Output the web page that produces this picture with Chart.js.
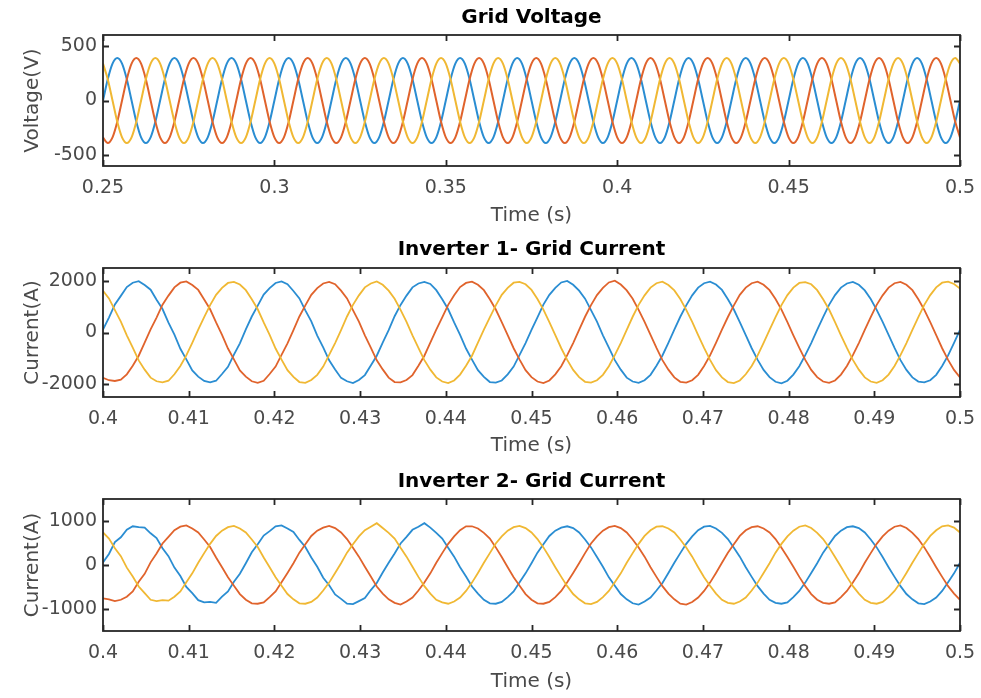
<!DOCTYPE html>
<html><head><meta charset="utf-8">
<script src="https://cdn.jsdelivr.net/npm/chart.js@4.4.1/dist/chart.umd.min.js"></script>
<style>
html,body{margin:0;padding:0;background:#fff;}
#wrap{position:relative;width:981px;height:698px;overflow:hidden;background:#fff;}
canvas{position:absolute;left:0;}
</style></head><body>
<div id="wrap">
<canvas id="c1" width="981" height="232" style="top:0px"></canvas>
<canvas id="c2" width="981" height="232" style="top:232px"></canvas>
<canvas id="c3" width="981" height="234" style="top:464px"></canvas>
</div>
<script>
// ---------- DATA ----------
const seriesNames = ['Phase A', 'Phase B', 'Phase C'];
const plotTitles = ['Grid Voltage', 'Inverter 1- Grid Current', 'Inverter 2- Grid Current'];
const yTitles = ['Voltage(V)', 'Current(A)', 'Current(A)'];
const xTitle = 'Time (s)';

// voltage sampled every 1/720 s starting at 0.25 s
const voltageStart = 0.25;
const voltageStep = 1 / 720;
const voltageA = [
0,195,338,390,338,195,0,-195,-338,-390,-338,-195,
0,195,338,390,338,195,0,-195,-338,-390,-338,-195,
0,195,338,390,338,195,0,-195,-338,-390,-338,-195,
0,195,338,390,338,195,0,-195,-338,-390,-338,-195,
0,195,338,390,338,195,0,-195,-338,-390,-338,-195,
0,195,338,390,338,195,0,-195,-338,-390,-338,-195,
0,195,338,390,338,195,0,-195,-338,-390,-338,-195,
0,195,338,390,338,195,0,-195,-338,-390,-338,-195,
0,195,338,390,338,195,0,-195,-338,-390,-338,-195,
0,195,338,390,338,195,0,-195,-338,-390,-338,-195,
0,195,338,390,338,195,0,-195,-338,-390,-338,-195,
0,195,338,390,338,195,0,-195,-338,-390,-338,-195,
0,195,338,390,338,195,0,-195,-338,-390,-338,-195,
0,195,338,390,338,195,0,-195,-338,-390,-338,-195,
0,195,338,390,338,195,0,-195,-338,-390,-338,-195,
0];
const voltageB = [
-338,-390,-338,-195,0,195,338,390,338,195,0,-195,
-338,-390,-338,-195,0,195,338,390,338,195,0,-195,
-338,-390,-338,-195,0,195,338,390,338,195,0,-195,
-338,-390,-338,-195,0,195,338,390,338,195,0,-195,
-338,-390,-338,-195,0,195,338,390,338,195,0,-195,
-338,-390,-338,-195,0,195,338,390,338,195,0,-195,
-338,-390,-338,-195,0,195,338,390,338,195,0,-195,
-338,-390,-338,-195,0,195,338,390,338,195,0,-195,
-338,-390,-338,-195,0,195,338,390,338,195,0,-195,
-338,-390,-338,-195,0,195,338,390,338,195,0,-195,
-338,-390,-338,-195,0,195,338,390,338,195,0,-195,
-338,-390,-338,-195,0,195,338,390,338,195,0,-195,
-338,-390,-338,-195,0,195,338,390,338,195,0,-195,
-338,-390,-338,-195,0,195,338,390,338,195,0,-195,
-338,-390,-338,-195,0,195,338,390,338,195,0,-195,
-338];
const voltageC = [
338,195,0,-195,-338,-390,-338,-195,0,195,338,390,
338,195,0,-195,-338,-390,-338,-195,0,195,338,390,
338,195,0,-195,-338,-390,-338,-195,0,195,338,390,
338,195,0,-195,-338,-390,-338,-195,0,195,338,390,
338,195,0,-195,-338,-390,-338,-195,0,195,338,390,
338,195,0,-195,-338,-390,-338,-195,0,195,338,390,
338,195,0,-195,-338,-390,-338,-195,0,195,338,390,
338,195,0,-195,-338,-390,-338,-195,0,195,338,390,
338,195,0,-195,-338,-390,-338,-195,0,195,338,390,
338,195,0,-195,-338,-390,-338,-195,0,195,338,390,
338,195,0,-195,-338,-390,-338,-195,0,195,338,390,
338,195,0,-195,-338,-390,-338,-195,0,195,338,390,
338,195,0,-195,-338,-390,-338,-195,0,195,338,390,
338,195,0,-195,-338,-390,-338,-195,0,195,338,390,
338,195,0,-195,-338,-390,-338,-195,0,195,338,390,
338];

// currents sampled every 1/1440 s starting at 0.4 s
const currentStart = 0.4;
const currentStep = 1 / 1440;
const inv1A = [
110,580,1090,1420,1760,1930,1990,1840,1660,1270,910,380,-80,-630,-1040,-1470,-1710,-1880,-1930,-1870,-1610,-1330,-860,-420,
120,620,1040,1470,1720,1920,1980,1870,1610,1320,860,430,-120,-580,-1080,-1430,-1760,-1890,-1960,-1840,-1650,-1280,-900,-390,
90,630,1070,1430,1750,1900,1960,1880,1640,1290,900,390,-90,-620,-1050,-1460,-1720,-1920,-1940,-1860,-1620,-1320,-870,-410,
100,590,1080,1460,1730,1940,2000,1850,1620,1310,870,420,-110,-590,-1070,-1440,-1750,-1900,-1950,-1850,-1640,-1290,-890,-400,
110,610,1050,1440,1740,1910,1970,1860,1650,1290,890,400,-100,-610,-1060,-1450,-1730,-1910,-1970,-1870,-1630,-1310,-880,-410,
100,600,1070,1450,1740,1900,1960,1850,1630,1300,880,410,-90,-600,-1070,-1450,-1740,-1900,-1930,-1850,-1640,-1300,-890,-400,
100];
const inv1B = [
-1760,-1850,-1880,-1830,-1620,-1290,-900,-390,120,580,1080,1430,1750,1930,1980,1840,1650,1280,900,390,-90,-620,-1040,-1470,
-1710,-1890,-1950,-1870,-1610,-1320,-870,-420,90,620,1050,1460,1720,1900,1960,1870,1620,1320,870,420,-110,-590,-1080,-1430,
-1750,-1920,-1930,-1840,-1650,-1290,-900,-390,110,590,1070,1440,1760,1920,1970,1850,1640,1290,890,400,-100,-610,-1050,-1460,
-1730,-1900,-1960,-1860,-1620,-1310,-880,-410,100,610,1060,1450,1730,1940,2010,1860,1630,1310,880,410,-90,-600,-1070,-1440,
-1740,-1910,-1940,-1850,-1640,-1300,-890,-400,110,600,1050,1460,1740,1910,1970,1850,1640,1300,890,400,-110,-600,-1060,-1450,
-1730,-1900,-1950,-1860,-1630,-1300,-880,-410,100,600,1070,1440,1740,1910,1960,1850,1640,1290,880,400,-100,-610,-1060,-1450,
-1740];
const inv1C = [
1620,1320,870,420,-110,-590,-1080,-1440,-1750,-1890,-1930,-1870,-1620,-1300,-890,-400,110,600,1060,1460,1730,1920,1960,1860,
1640,1290,900,390,-90,-620,-1050,-1460,-1720,-1920,-1950,-1840,-1640,-1320,-870,-410,90,620,1070,1440,1750,1900,1980,1850,
1620,1310,880,410,-110,-600,-1070,-1440,-1740,-1900,-1960,-1860,-1630,-1290,-900,-390,110,590,1050,1460,1730,1930,1960,1870,
1650,1300,890,400,-100,-610,-1060,-1450,-1730,-1910,-1940,-1850,-1640,-1310,-880,-410,100,610,1070,1440,1740,1910,1970,1840,
1630,1300,880,410,-100,-600,-1060,-1460,-1740,-1920,-1960,-1860,-1620,-1300,-890,-400,100,600,1060,1450,1740,1920,1950,1870,
1640,1290,890,400,-110,-600,-1060,-1440,-1740,-1900,-1950,-1850,-1630,-1300,-880,-410,100,600,1070,1450,1750,1930,1970,1880,
1700];
const inv2A = [
60,250,520,630,800,880,860,850,720,610,380,200,-60,-250,-500,-640,-800,-850,-840,-860,-720,-600,-380,-200,
40,290,470,670,770,880,900,830,750,570,410,170,-40,-290,-460,-670,-770,-880,-890,-820,-750,-570,-410,-170,
50,260,490,640,800,870,950,850,730,600,390,190,-50,-260,-490,-650,-790,-870,-880,-840,-730,-600,-390,-190,
40,280,470,660,780,850,880,840,740,580,400,180,-40,-280,-470,-660,-780,-870,-900,-830,-740,-580,-410,-180,
50,270,480,650,790,870,890,830,730,590,390,190,-50,-270,-480,-650,-790,-860,-880,-850,-730,-590,-400,-180,
40,280,470,660,780,860,880,840,740,580,400,180,-50,-270,-480,-660,-780,-870,-890,-830,-740,-590,-390,-190,
50];
const inv2B = [
-760,-780,-820,-790,-720,-600,-380,-200,60,260,490,640,790,870,900,830,740,580,410,170,-50,-280,-470,-660,
-790,-870,-880,-850,-730,-600,-390,-180,40,280,470,660,780,850,890,840,740,590,390,190,-40,-260,-490,-650,
-780,-860,-900,-830,-740,-580,-400,-190,50,270,480,650,790,880,880,830,730,600,400,180,-50,-280,-470,-660,
-790,-870,-880,-840,-730,-590,-390,-180,40,270,490,650,780,860,890,840,740,580,400,190,-50,-270,-480,-650,
-780,-880,-900,-840,-740,-590,-400,-180,50,280,470,660,790,860,880,830,740,590,390,180,-40,-270,-480,-660,
-790,-860,-880,-850,-730,-590,-400,-190,50,270,480,650,780,870,900,840,730,590,400,180,-50,-270,-480,-650,
-790];
const inv2C = [
740,600,380,200,-60,-260,-490,-640,-790,-820,-800,-810,-720,-600,-390,-190,50,270,480,660,780,860,890,830,
740,580,410,170,-50,-280,-470,-660,-780,-870,-880,-840,-740,-580,-400,-180,40,280,470,650,790,870,950,840,
730,600,390,190,-40,-270,-480,-650,-790,-850,-880,-830,-740,-590,-400,-180,50,270,490,650,780,860,890,840,
740,590,400,180,-50,-270,-480,-660,-780,-870,-890,-840,-730,-590,-390,-190,50,270,480,660,790,870,880,830,
740,580,400,190,-50,-280,-470,-650,-790,-860,-880,-830,-740,-580,-400,-180,40,280,480,650,780,870,900,840,
730,590,400,180,-40,-270,-480,-650,-790,-860,-880,-840,-730,-590,-400,-180,50,270,480,660,790,880,900,850,
740];

// tick values / labels
const voltTimeTicks = [0.25, 0.3, 0.35, 0.4, 0.45, 0.5];
const voltTimeLabels = ['0.25', '0.3', '0.35', '0.4', '0.45', '0.5'];
const curTimeTicks = [0.4, 0.41, 0.42, 0.43, 0.44, 0.45, 0.46, 0.47, 0.48, 0.49, 0.5];
const curTimeLabels = ['0.4', '0.41', '0.42', '0.43', '0.44', '0.45', '0.46', '0.47', '0.48', '0.49', '0.5'];
const voltTicks = [-500, 0, 500];
const cur1Ticks = [-2000, 0, 2000];
const cur2Ticks = [-1000, 0, 1000];

// ---------- STYLE ----------
const colors = ['#2a8dd2', '#e0632c', '#f0b833'];
const FONT = 'DejaVu Sans';
const TICK_COLOR = '#4a4a4a';

const framePlugin = {
  id: 'matlabFrame',
  afterDatasetsDraw(chart) {
    const {ctx, chartArea: a, scales} = chart;
    ctx.save();
    ctx.strokeStyle = '#262626';
    ctx.lineWidth = 1.8;
    ctx.strokeRect(a.left, a.top, a.right - a.left, a.bottom - a.top);
    const L = 6;
    ctx.beginPath();
    scales.x.ticks.forEach(t => {
      const px = Math.round(scales.x.getPixelForValue(t.value)) + 0.5;
      ctx.moveTo(px, a.bottom); ctx.lineTo(px, a.bottom - L);
      ctx.moveTo(px, a.top); ctx.lineTo(px, a.top + L);
    });
    scales.y.ticks.forEach(t => {
      const py = Math.round(scales.y.getPixelForValue(t.value)) + 0.5;
      ctx.moveTo(a.left, py); ctx.lineTo(a.left + L, py);
      ctx.moveTo(a.right, py); ctx.lineTo(a.right - L, py);
    });
    ctx.stroke();
    ctx.restore();
  }
};

function makeChart(id, cfg) {
  const datasets = cfg.series.map((vals, si) => ({
    label: seriesNames[si],
    data: vals.map((v, i) => ({x: cfg.start + i * cfg.step, y: v})),
    borderColor: colors[si],
    backgroundColor: colors[si],
    borderWidth: cfg.lw,
    pointRadius: 0,
    fill: false,
    cubicInterpolationMode: cfg.smooth ? 'monotone' : 'default',
    tension: 0,
    order: 3 - si
  }));
  return new Chart(document.getElementById(id), {
    type: 'line',
    data: {datasets},
    plugins: [framePlugin],
    options: {
      responsive: false,
      animation: false,
      events: [],
      layout: {padding: {left: 0, right: 21, top: 0, bottom: 0}},
      plugins: {
        legend: {display: false},
        tooltip: {enabled: false},
        title: {
          display: true, text: cfg.title, color: '#000', fullSize: false,
          font: {family: FONT, size: 20, weight: 'bold', lineHeight: 1.2},
          padding: {top: 6, bottom: cfg.chartTop - 30}
        }
      },
      scales: {
        x: {
          type: 'linear', min: cfg.xMin, max: cfg.xMax,
          grid: {display: false, drawTicks: false},
          border: {display: false},
          afterBuildTicks: s => { s.ticks = cfg.xTicks.map(v => ({value: v})); },
          afterFit: s => { s.height = cfg.canvasH - cfg.chartBottom; s.paddingLeft = 0; s.paddingRight = 0; },
          ticks: {
            autoSkip: false, maxRotation: 0, padding: 11, color: TICK_COLOR,
            font: {family: FONT, size: 19},
            callback: (v, i) => cfg.xLabels[i]
          },
          title: {
            display: true, text: xTitle, color: TICK_COLOR,
            font: {family: FONT, size: 20},
            padding: {top: 0, bottom: cfg.xTitlePad}
          }
        },
        y: {
          type: 'linear', min: cfg.yMin, max: cfg.yMax,
          grid: {display: false, drawTicks: false},
          border: {display: false},
          afterBuildTicks: s => { s.ticks = cfg.yTicks.map(v => ({value: v})); },
          afterFit: s => { s.width = 103; s.paddingTop = 0; s.paddingBottom = 0; },
          ticks: {
            padding: 6, color: TICK_COLOR,
            font: {family: FONT, size: 19},
            callback: v => String(v)
          },
          title: {
            display: true, text: cfg.yTitle, color: TICK_COLOR,
            font: {family: FONT, size: 20},
            padding: {top: 21, bottom: 0}
          }
        }
      }
    }
  });
}

makeChart('c1', {
  title: plotTitles[0], yTitle: yTitles[0],
  series: [voltageA, voltageB, voltageC], start: voltageStart, step: voltageStep,
  xMin: 0.25, xMax: 0.5, xTicks: voltTimeTicks, xLabels: voltTimeLabels,
  yMin: -600, yMax: 600, yTicks: voltTicks,
  chartTop: 35, chartBottom: 166, canvasH: 232, xTitlePad: 4, lw: 2, smooth: true
});
makeChart('c2', {
  title: plotTitles[1], yTitle: yTitles[1],
  series: [inv1A, inv1B, inv1C], start: currentStart, step: currentStep,
  xMin: 0.4, xMax: 0.5, xTicks: curTimeTicks, xLabels: curTimeLabels,
  yMin: -2500, yMax: 2500, yTicks: cur1Ticks,
  chartTop: 36, chartBottom: 165, canvasH: 232, xTitlePad: 6, lw: 1.8, smooth: false
});
makeChart('c3', {
  title: plotTitles[2], yTitle: yTitles[2],
  series: [inv2A, inv2B, inv2C], start: currentStart, step: currentStep,
  xMin: 0.4, xMax: 0.5, xTicks: curTimeTicks, xLabels: curTimeLabels,
  yMin: -1500, yMax: 1500, yTicks: cur2Ticks,
  chartTop: 35, chartBottom: 167, canvasH: 234, xTitlePad: 4, lw: 1.8, smooth: false
});
</script>
</body></html>
